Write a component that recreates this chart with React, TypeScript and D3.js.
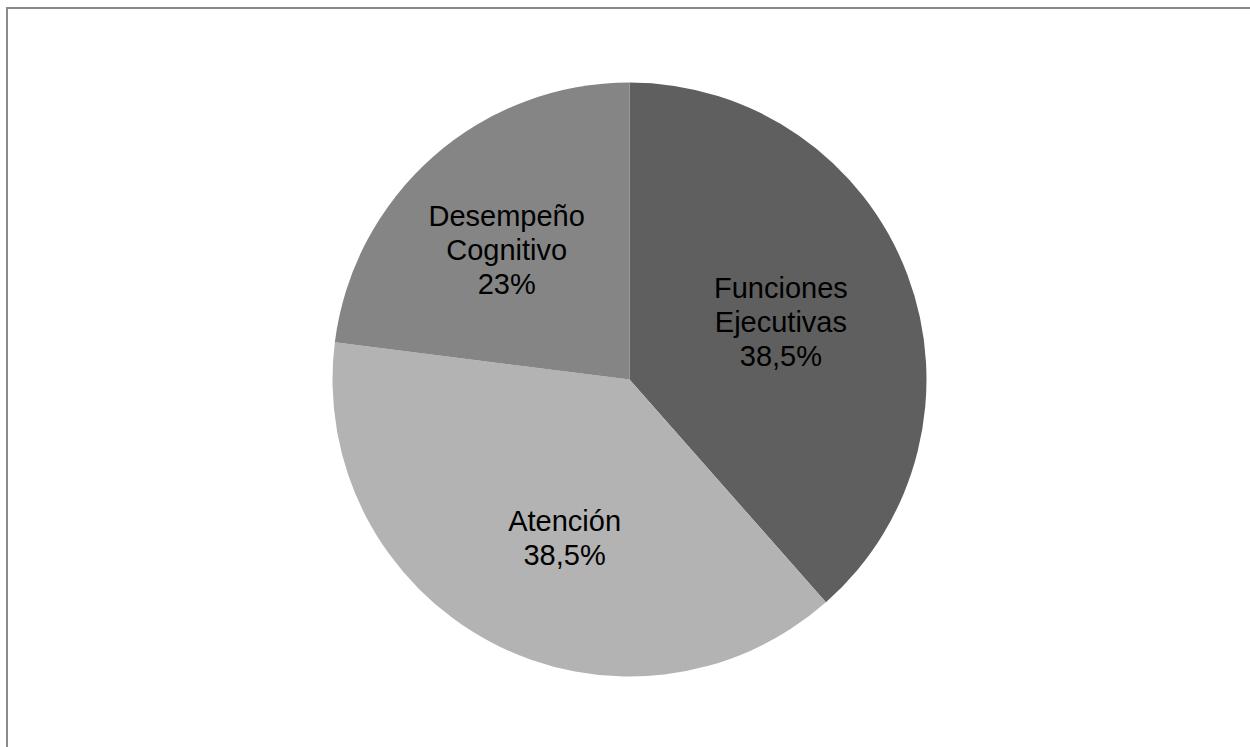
import React from "react";
import * as d3 from "d3";

const categories = ["Funciones Ejecutivas", "Atención", "Desempeño Cognitivo"];
const values = [38.5, 38.5, 23];
const labelLines = [
  ["Funciones", "Ejecutivas", "38,5%"],
  ["Atención", "38,5%"],
  ["Desempeño", "Cognitivo", "23%"],
];
const colors = ["#5f5f5f", "#b3b3b3", "#858585"];

const W = 1250;
const H = 747;
const cx = 629.5;
const cy = 379.5;
const R = 297;
// distance of each label's centre from the pie centre, as a share of the radius
const labelRadius = [0.545, 0.575, 0.6];
// small nudges (px) so each label block sits well inside its slice
const labelNudge = [
  [0, 0],
  [15, 8],
  [-5, 4.5],
];
const fontSize = 29;
const lineHeight = 34;

export default function App() {
  const pie = d3
    .pie<number>()
    .sort(null)
    .startAngle(0)
    .endAngle(2 * Math.PI)
    .value((d) => d);
  const arcs = pie(values);
  const arc = d3.arc<d3.PieArcDatum<number>>().innerRadius(0).outerRadius(R);

  return (
    <svg
      width={W}
      height={H}
      style={{ position: "fixed", left: 0, top: 0, background: "#fff" }}
    >
      <rect x={7} y={8} width={W + 20} height={H + 20} fill="#fff" stroke="#8a8a8a" strokeWidth={2} />
      <g transform={`translate(${cx},${cy})`}>
        {arcs.map((a, i) => (
          <path key={categories[i]} d={arc(a) || ""} fill={colors[i]} />
        ))}
        {arcs.map((a, i) => {
          const mid = (a.startAngle + a.endAngle) / 2;
          const r = R * labelRadius[i];
          const x = Math.sin(mid) * r + labelNudge[i][0];
          const y = -Math.cos(mid) * r + labelNudge[i][1];
          const lines = labelLines[i];
          const y0 = y - ((lines.length - 1) * lineHeight) / 2;
          return (
            <text
              key={"l" + i}
              textAnchor="middle"
              fontFamily="'Liberation Sans', Arial, sans-serif"
              fontSize={fontSize}
              fill="#000"
            >
              {lines.map((t, j) => (
                <tspan key={j} x={x} y={y0 + j * lineHeight} dominantBaseline="central">
                  {t}
                </tspan>
              ))}
            </text>
          );
        })}
      </g>
    </svg>
  );
}
